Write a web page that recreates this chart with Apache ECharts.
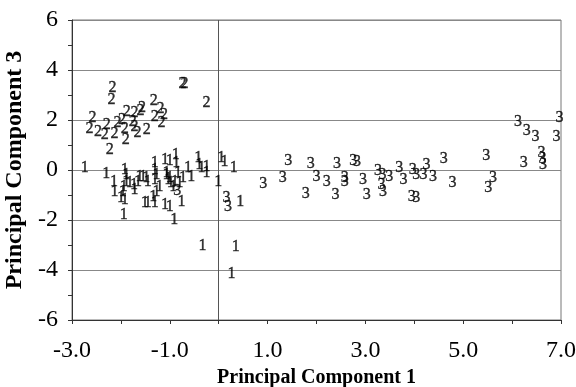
<!DOCTYPE html>
<html>
<head>
<meta charset="utf-8">
<script src="https://cdn.jsdelivr.net/npm/echarts@6/dist/echarts.min.js"></script>
<style>html,body{margin:0;padding:0;background:#fff;}#c{width:576px;height:387px;}</style>
</head>
<body>
<div id="c"></div>
<script>
// Group "1" points [PC1, PC3]
var group1 = [
  [-2.74,0.07],[-2.30,-0.16],[-2.14,-0.47],[-2.13,-0.87],[-2.00,-1.13],[-1.92,-1.20],[-1.94,-1.80],
  [-1.92,0.00],[-1.89,-0.20],[-1.89,-0.47],[-1.94,-0.69],[-1.96,-0.87],[-1.82,-0.53],[-1.73,-0.60],
  [-1.72,-0.80],[-1.62,-0.27],[-1.55,-0.27],[-1.48,-0.33],[-1.65,-0.47],[-1.45,-0.47],[-1.31,0.27],
  [-1.31,0.00],[-1.27,-0.20],[-1.31,-0.40],[-1.27,-0.87],[-1.34,-1.07],[-1.31,-1.33],[-1.51,-1.33],
  [-1.45,-1.33],[-1.21,-0.67],[-1.10,0.40],[-1.07,-0.13],[-1.00,-0.33],[-1.10,-1.40],[-1.00,-1.47],
  [-0.91,-2.00],[-1.00,0.38],[-0.88,0.62],[-0.87,0.30],[-0.83,-0.13],[-0.73,-0.33],[-0.63,0.07],
  [-0.56,-0.27],[-0.42,0.47],[-0.40,0.20],[-0.35,0.07],[-0.25,-0.13],[-0.25,0.13],[0.05,0.47],
  [0.12,0.33],[0.31,0.07],[-0.01,-0.47],[-1.07,-0.20],[-1.03,-0.40],[-0.98,-0.53],[-0.90,-0.47],
  [-0.93,-0.67],[-0.80,-0.53],[-0.76,-1.27],[0.44,-1.27],[-0.33,-3.04],[0.35,-3.09],[0.26,-4.16]
];
// Group "2" points
var group2 = [
  [-2.17,3.28],[-2.19,2.80],[-0.74,3.44],[-0.70,3.44],[-0.25,2.68],[-1.33,2.76],[-1.19,2.44],
  [-1.57,2.48],[-1.60,2.36],[-1.72,2.28],[-1.88,2.32],[-1.12,2.20],[-1.31,2.12],[-1.17,1.88],
  [-2.58,2.08],[-2.64,1.64],[-2.47,1.52],[-2.29,1.80],[-2.33,1.40],[-2.13,1.44],[-2.07,1.88],
  [-1.92,1.64],[-1.90,1.20],[-1.98,2.00],[-1.76,1.92],[-1.72,1.72],[-1.66,1.48],[-1.47,1.60],
  [-2.23,0.80]
];
// Group "3" points
var group3 = [
  [-0.85,-0.85],[0.16,-1.13],[0.19,-1.47],[0.91,-0.57],[1.31,-0.31],[1.42,0.36],[1.78,-0.97],
  [1.88,0.23],[2.00,-0.27],[2.21,-0.49],[2.39,-1.00],[2.42,0.23],[2.58,-0.33],[2.58,-0.49],
  [2.75,0.36],[2.83,0.31],[2.95,-0.40],[3.03,-1.00],[3.26,-0.04],[3.35,-0.20],[3.49,-0.29],
  [3.33,-0.60],[3.36,-0.89],[3.69,0.07],[3.78,-0.40],[3.97,0.00],[4.04,-0.20],[3.95,-1.07],
  [4.04,-1.11],[4.19,-0.20],[4.25,0.20],[4.38,-0.27],[4.60,0.44],[4.78,-0.53],[5.47,0.57],
  [5.61,-0.33],[5.51,-0.73],[6.12,1.91],[6.30,1.56],[6.48,1.33],[6.91,1.33],[6.97,2.09],
  [6.24,0.27],[6.60,0.67],[6.62,0.44],[6.63,0.20]
];
var xTitle = 'Principal Component 1';
var yTitle = 'Principal Component 3';

var serif = 'Liberation Serif';
function mk(name, data) {
  return {
    type: 'scatter', name: name, data: data, symbolSize: 1,
    itemStyle: { color: 'rgba(0,0,0,0)' },
    label: { show: true, position: 'inside', formatter: name,
      fontFamily: serif, fontSize: 16, color: '#000',
      textBorderColor: '#000', textBorderWidth: 0.4 },
    emphasis: { disabled: true }, silent: true, z: 5
  };
}
var s1 = mk('1', group1);
s1.markLine = {
  silent: true, symbol: 'none', label: { show: false },
  lineStyle: { color: '#555', type: 'solid', width: 1 },
  data: [{ xAxis: 0 }]
};
var chart = echarts.init(document.getElementById('c'), null, { renderer: 'canvas' });
chart.setOption({
  animation: false,
  backgroundColor: '#fff',
  grid: { left: 72, right: 15, top: 20, bottom: 67, containLabel: false, outerBoundsMode: 'none',
    show: true, borderColor: '#777', borderWidth: 1 },
  xAxis: {
    type: 'value', min: -3, max: 7, interval: 2,
    name: xTitle, nameLocation: 'middle', nameGap: 45,
    nameTextStyle: { fontFamily: serif, fontWeight: 'bold', fontSize: 20, color: '#000' },
    axisLine: { show: true, onZero: false, lineStyle: { color: '#333' } },
    axisTick: { show: true, length: 4, lineStyle: { color: '#333' } },
    minorTick: { show: true, splitNumber: 2, length: 4, lineStyle: { color: '#333' } },
    splitLine: { show: false },
    axisLabel: { fontFamily: serif, fontSize: 24, color: '#000', margin: 19,
      formatter: function (v) { return v.toFixed(1); } }
  },
  yAxis: {
    type: 'value', min: -6, max: 6, interval: 2,
    name: yTitle, nameLocation: 'middle', nameGap: 43,
    nameTextStyle: { fontFamily: serif, fontWeight: 'bold', fontSize: 24, color: '#000' },
    axisLine: { show: true, onZero: false, lineStyle: { color: '#333' } },
    axisTick: { show: true, length: 4, lineStyle: { color: '#333' } },
    minorTick: { show: true, splitNumber: 2, length: 4, lineStyle: { color: '#333' } },
    splitLine: { show: true, lineStyle: { color: '#888', width: 1 } },
    axisLabel: { fontFamily: serif, fontSize: 24, color: '#000', margin: 14 }
  },
  series: [s1, mk('2', group2), mk('3', group3)]
});
</script>
</body>
</html>
